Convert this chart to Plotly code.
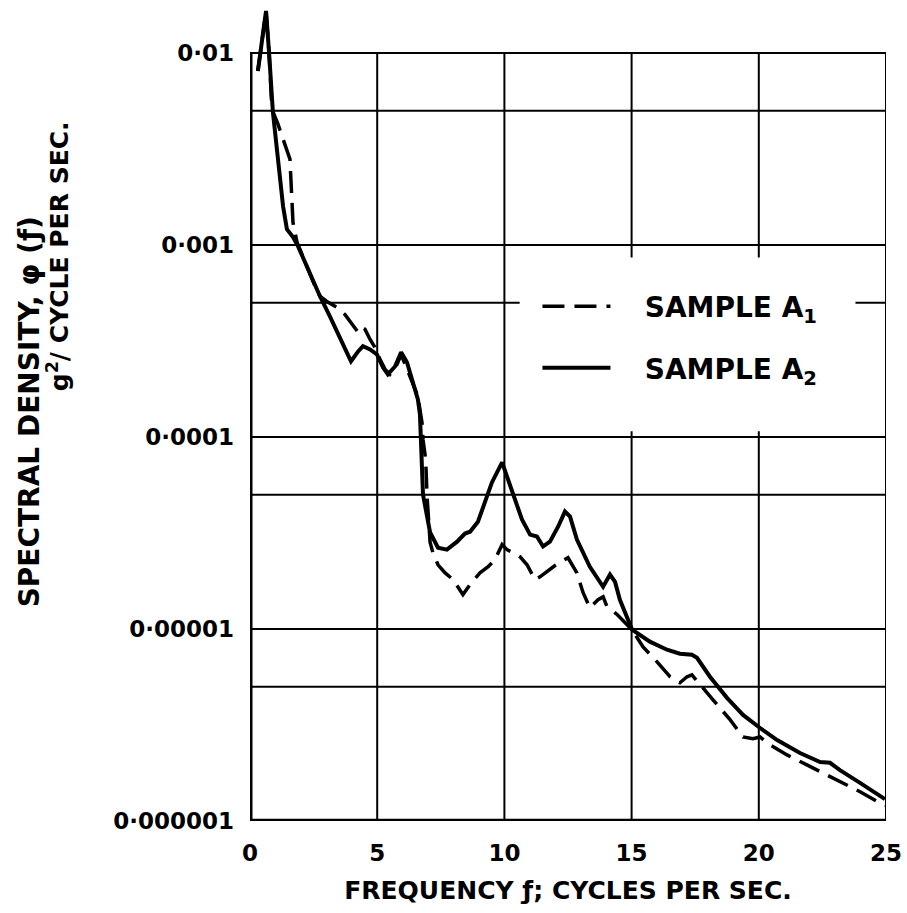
import plotly.graph_objects as go

# ---- data ----
freq_a1 = [0.31, 0.63, 0.75, 0.86, 1.10, 1.38, 1.57, 1.69, 1.85, 2.56, 2.75, 3.07, 3.42, 3.73,
           4.13, 4.25, 4.40, 4.52, 4.72, 4.91, 5.11, 5.31, 5.50, 5.78, 5.94, 6.29, 6.49, 6.60,
           6.68, 6.76, 6.80, 6.88, 6.92, 6.96, 7.08, 7.19, 7.39, 7.67, 7.98, 8.37, 8.73, 9.04,
           9.36, 9.63, 9.91, 10.10, 10.42, 10.61, 10.89, 11.20, 11.40, 11.99, 12.50, 12.85,
           13.09, 13.36, 13.68, 13.88, 14.03, 14.43, 15.02, 15.45, 16.00, 16.51, 16.90, 17.18,
           17.37, 17.69, 18.20, 18.87, 19.38, 19.77, 20.05, 20.32, 21.11, 21.89, 22.92, 23.98,
           24.96]
psd_a1 = [8.06e-3, 1.656e-2, 1.00e-2, 5.11e-3, 4.26e-3, 3.35e-3, 2.80e-3, 1.31e-3, 1.03e-3,
          6.09e-4, 5.41e-4, 5.03e-4, 4.73e-4, 4.35e-4, 3.64e-4, 3.51e-4, 3.72e-4, 3.64e-4,
          3.22e-4, 2.93e-4, 2.54e-4, 2.25e-4, 2.12e-4, 2.39e-4, 2.69e-4, 2.07e-4, 1.77e-4,
          1.63e-4, 1.39e-4, 1.19e-4, 9.71e-5, 8.11e-5, 6.78e-5, 4.90e-5, 2.82e-5, 2.50e-5,
          2.16e-5, 1.96e-5, 1.81e-5, 1.51e-5, 1.76e-5, 1.96e-5, 2.11e-5, 2.30e-5, 2.75e-5,
          2.59e-5, 2.47e-5, 2.38e-5, 2.16e-5, 1.81e-5, 1.87e-5, 2.14e-5, 2.35e-5, 1.96e-5,
          1.55e-5, 1.29e-5, 1.42e-5, 1.47e-5, 1.31e-5, 1.19e-5, 9.91e-6, 8.07e-6, 6.74e-6,
          5.64e-6, 5.25e-6, 5.64e-6, 5.77e-6, 5.12e-6, 4.28e-6, 3.37e-6, 2.74e-6, 2.68e-6,
          2.74e-6, 2.55e-6, 2.21e-6, 1.96e-6, 1.68e-6, 1.42e-6, 1.20e-6]

freq_a2 = [0.31, 0.63, 0.75, 0.90, 1.10, 1.30, 1.45, 1.69, 1.89, 2.56, 2.75, 3.14, 3.62, 3.97,
           4.25, 4.44, 4.72, 4.99, 5.23, 5.42, 5.70, 5.94, 6.17, 6.41, 6.60, 6.68, 6.72, 6.76,
           6.80, 7.08, 7.39, 7.74, 8.14, 8.45, 8.65, 8.96, 9.24, 9.51, 9.91, 10.30, 10.69,
           11.01, 11.28, 11.52, 11.79, 12.11, 12.38, 12.58, 12.85, 13.36, 13.88, 14.15, 14.35,
           14.54, 15.02, 15.72, 16.39, 16.90, 17.37, 17.57, 18.08, 18.75, 19.38, 20.05, 20.72,
           21.62, 22.41, 22.80, 23.19, 23.98, 24.96]
psd_a2 = [8.06e-3, 1.656e-2, 1.00e-2, 4.92e-3, 2.80e-3, 1.59e-3, 1.21e-3, 1.10e-3, 9.84e-4,
          6.09e-4, 5.41e-4, 4.25e-4, 3.11e-4, 2.48e-4, 2.79e-4, 2.97e-4, 2.86e-4, 2.69e-4,
          2.30e-4, 2.12e-4, 2.33e-4, 2.76e-4, 2.45e-4, 1.92e-4, 1.57e-4, 1.31e-4, 1.01e-4,
          7.02e-5, 5.01e-5, 3.18e-5, 2.65e-5, 2.59e-5, 2.85e-5, 3.14e-5, 3.21e-5, 3.62e-5,
          4.61e-5, 5.80e-5, 7.37e-5, 5.20e-5, 3.72e-5, 3.10e-5, 3.03e-5, 2.69e-5, 2.85e-5,
          3.41e-5, 4.09e-5, 3.85e-5, 2.92e-5, 2.11e-5, 1.66e-5, 1.92e-5, 1.76e-5, 1.42e-5,
          9.91e-6, 8.59e-6, 7.80e-6, 7.43e-6, 7.34e-6, 7.08e-6, 5.64e-6, 4.38e-6, 3.57e-6,
          3.05e-6, 2.64e-6, 2.26e-6, 2.03e-6, 2.01e-6, 1.84e-6, 1.58e-6, 1.30e-6]

x_tick_vals = [0, 5, 10, 15, 20, 25]
x_tick_text = ["0", "5", "10", "15", "20", "25"]
y_tick_vals = [1e-6, 1e-5, 1e-4, 1e-3, 1e-2]
y_tick_text = ["0·000001", "0·00001", "0·0001", "0·001", "0·01"]
grid_x = [5, 10, 15, 20]
grid_y = [5e-6, 1e-5, 5e-5, 1e-4, 5e-4, 1e-3, 5e-3, 1e-2]
x_lim = [0, 25]
y_lim = [1e-6, 1e-2]
legend_patch_x = [10.6, 23.8]
legend_patch_y = [1.07e-4, 8.6e-4]

FONT = "DejaVu Sans"
INK = "#000000"
PAD = "\u00a0\u00a0\u00a0"

fig = go.Figure()
fig.add_trace(go.Scatter(
    x=freq_a1, y=psd_a1, mode="lines", name=PAD + "SAMPLE A<sub>1</sub>",
    legendgroup="a1", line=dict(color=INK, width=3.5, dash="22px,10px")))
fig.add_trace(go.Scatter(
    x=freq_a2, y=psd_a2, mode="lines", name=PAD + "SAMPLE A<sub>2</sub>",
    legendgroup="a2", line=dict(color=INK, width=4)))

shapes = []
for g in grid_y:
    shapes.append(dict(type="line", xref="x", yref="y", x0=x_lim[0], x1=x_lim[1], y0=g, y1=g,
                       line=dict(color=INK, width=2), layer="below"))
for g in grid_x:
    shapes.append(dict(type="line", xref="x", yref="y", x0=g, x1=g, y0=y_lim[0], y1=y_lim[1],
                       line=dict(color=INK, width=2), layer="below"))
# white patch behind legend
shapes.append(dict(type="rect", xref="x", yref="y", x0=legend_patch_x[0], x1=legend_patch_x[1],
                   y0=legend_patch_y[0], y1=legend_patch_y[1], fillcolor="white",
                   line=dict(width=0), layer="below"))
# frame
shapes.append(dict(type="line", xref="x", yref="y", x0=x_lim[1], x1=x_lim[1], y0=y_lim[0], y1=y_lim[1],
                   line=dict(color=INK, width=2), layer="below"))
shapes.append(dict(type="line", xref="x", yref="y", x0=x_lim[0], x1=x_lim[0], y0=y_lim[0], y1=y_lim[1],
                   line=dict(color=INK, width=5), layer="above"))
shapes.append(dict(type="line", xref="x", yref="y", x0=x_lim[0], x1=x_lim[1], y0=y_lim[0], y1=y_lim[0],
                   line=dict(color=INK, width=4.5), layer="above"))

fig.update_layout(
    width=907, height=913,
    margin=dict(l=250, r=21, t=5, b=92),
    paper_bgcolor="white", plot_bgcolor="white",
    font=dict(family=FONT, color=INK, weight="bold"),
    shapes=shapes,
    showlegend=True,
    legend=dict(x=0.452, y=0.661, xanchor="left", yanchor="top",
                bgcolor="rgba(0,0,0,0)", borderwidth=0,
                font=dict(family=FONT, size=28, color=INK, weight="bold"),
                traceorder="grouped", tracegroupgap=22, itemwidth=68),
    annotations=[
        dict(text="SPECTRAL DENSITY, φ (ƒ)", xref="paper", yref="paper",
             x=-0.3475, y=0.502, xanchor="center", yanchor="middle", textangle=-90,
             showarrow=False, font=dict(family=FONT, size=28, color=INK, weight="bold")),
        dict(text="g<sup>2</sup>/ CYCLE PER SEC.", xref="paper", yref="paper",
             x=-0.302, y=0.692, xanchor="center", yanchor="middle", textangle=-90,
             showarrow=False, font=dict(family=FONT, size=25, color=INK, weight="bold")),
    ],
)

fig.update_xaxes(
    range=x_lim, tickmode="array", tickvals=x_tick_vals, ticktext=x_tick_text,
    showgrid=False, zeroline=False, showline=False, ticks="",
    ticklabelstandoff=16, automargin=False,
    tickfont=dict(family=FONT, size=23, color=INK, weight="bold"),
    title=dict(text="FREQUENCY ƒ; CYCLES PER SEC.", standoff=16,
               font=dict(family=FONT, size=25, color=INK, weight="bold")),
)
fig.update_yaxes(
    type="log", range=[-6, -1.75], tickmode="array", tickvals=y_tick_vals, ticktext=y_tick_text,
    showgrid=False, zeroline=False, showline=False, ticks="",
    ticklabelstandoff=15, automargin=False,
    tickfont=dict(family=FONT, size=23, color=INK, weight="bold"),
)

fig.write_html("out.html")
